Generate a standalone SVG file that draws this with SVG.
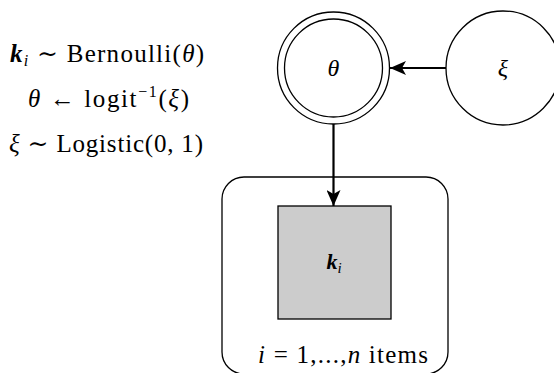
<svg xmlns="http://www.w3.org/2000/svg" width="554" height="373" viewBox="0 0 554 373">
  <style>
    .node { fill: #ffffff; stroke: #000000; stroke-width: 1.3; }
    .obs { fill: #cccccc; stroke: #000000; stroke-width: 1.3; }
    .plate { fill: none; stroke: #000000; stroke-width: 1.3; }
    .edge { fill: none; stroke: #000000; stroke-width: 2.2; }
    text { font-family: 'Liberation Serif', 'DejaVu Serif', serif; fill: #000000; }
    .it { font-style: italic; }
    .bold { font-weight: bold; }
  </style>
  <defs>
    <marker id="arrow" viewBox="0 0 16 14" refX="16" refY="7" markerWidth="16" markerHeight="14" markerUnits="userSpaceOnUse" orient="auto">
      <path d="M0,0 L16,7 L0,14 L4,7 Z" fill="#000000"/>
    </marker>
  </defs>

  <!-- model equations -->
  <g id="equations" font-size="25">
    <text x="10" y="62" textLength="194" lengthAdjust="spacing"><tspan class="it bold">k</tspan><tspan class="it" font-size="16" dy="4">i</tspan><tspan dy="-4"> ∼ Bernoulli(</tspan><tspan class="it">θ</tspan><tspan>)</tspan></text>
    <text x="28" y="107" textLength="161" lengthAdjust="spacing"><tspan class="it">θ</tspan><tspan> ← logit</tspan><tspan font-size="16" dy="-10">−1</tspan><tspan dy="10">(</tspan><tspan class="it">ξ</tspan><tspan>)</tspan></text>
    <text x="9" y="152" textLength="194" lengthAdjust="spacing"><tspan class="it">ξ</tspan><tspan> ∼ Logistic(0, 1)</tspan></text>
  </g>

  <!-- plate -->
  <g id="plate">
    <rect class="plate" x="222" y="177" width="226" height="197" rx="22" ry="22"/>
    <text x="258" y="363" font-size="25" textLength="170" lengthAdjust="spacing"><tspan class="it">i</tspan><tspan> = 1,...,</tspan><tspan class="it">n</tspan><tspan> items</tspan></text>
  </g>

  <!-- deterministic node theta -->
  <g id="theta">
    <circle class="node" cx="333.5" cy="68" r="56"/>
    <circle class="node" cx="333.5" cy="68" r="49"/>
    <text class="it" x="333.5" y="76" text-anchor="middle" font-size="24">θ</text>
  </g>

  <!-- latent node xi -->
  <g id="xi">
    <circle class="node" cx="503" cy="68" r="57"/>
    <text class="it" x="503" y="76" text-anchor="middle" font-size="24">ξ</text>
  </g>

  <!-- observed node k_i -->
  <g id="k">
    <rect class="obs" x="278" y="206" width="113" height="113"/>
    <text x="334" y="269" text-anchor="middle" font-size="22"><tspan class="it bold">k</tspan><tspan class="it" font-size="15" dy="4">i</tspan></text>
  </g>

  <!-- connectors -->
  <g id="edges">
    <line class="edge" x1="446" y1="68" x2="390" y2="68" marker-end="url(#arrow)"/>
    <line class="edge" x1="333.5" y1="124" x2="333.5" y2="206" marker-end="url(#arrow)"/>
  </g>
</svg>
